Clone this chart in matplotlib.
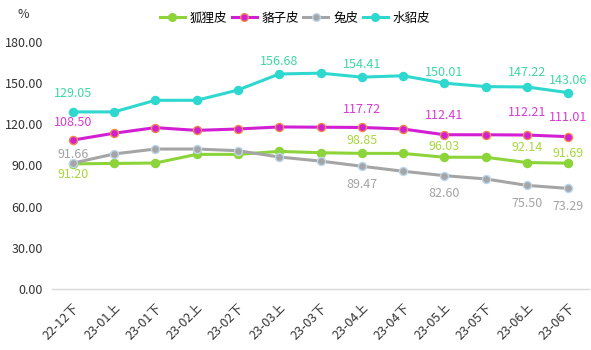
import matplotlib
matplotlib.use("Agg")
import matplotlib.pyplot as plt
from matplotlib.lines import Line2D

plt.rcParams['font.family'] = ['Noto Sans CJK SC', 'DejaVu Sans']

categories = ["22-12下", "23-01上", "23-01下", "23-02上", "23-02下", "23-03上", "23-03下",
              "23-04上", "23-04下", "23-05上", "23-05下", "23-06上", "23-06下"]
fox = [91.20, 91.5, 91.8, 98.1, 98.1, 100.3, 99.3, 98.85, 98.8, 96.03, 96.0, 92.14, 91.69]
raccoon = [108.50, 113.5, 117.6, 115.6, 116.6, 118.1, 117.9, 117.72, 116.6, 112.41, 112.4, 112.21, 111.01]
rabbit = [91.66, 98.4, 102.0, 102.0, 100.8, 96.2, 93.2, 89.47, 85.8, 82.60, 80.2, 75.50, 73.29]
mink = [129.05, 129.05, 137.5, 137.5, 145.0, 156.68, 157.3, 154.41, 155.4, 150.01, 147.5, 147.22, 143.06]
series_names = ["狐狸皮", "貉子皮", "兔皮", "水貂皮"]
yticks = [0, 30, 60, 90, 120, 150, 180]

# label indices and pixel offsets (style/positions)
label_spec = {
    "狐狸皮": {0: 11, 7: -13, 9: -11, 11: -15, 12: -10},
    "貉子皮": {0: -18, 7: -18, 9: -19, 11: -23, 12: -19},
    "兔皮": {0: -9, 7: 18, 9: 18, 11: 18, 12: 18},
    "水貂皮": {0: -18, 5: -13, 7: -13, 9: -11, 11: -14, 12: -12},
}

styles = {
    "狐狸皮": dict(color="#8cd43a", mfc="#8cd43a", mec="#8cd43a", lab="#a9d83a"),
    "貉子皮": dict(color="#d21fd4", mfc="#d21fd4", mec="#f08a4a", lab="#d83ad6"),
    "兔皮": dict(color="#a5a5a5", mfc="#a5a5a5", mec="#bcd6ec", lab="#a3a3a3"),
    "水貂皮": dict(color="#2ed8cf", mfc="#2ed8cf", mec="#2ed8cf", lab="#3fd8a3"),
}
data = {"狐狸皮": fox, "貉子皮": raccoon, "兔皮": rabbit, "水貂皮": mink}

fig = plt.figure(figsize=(5.91, 3.5), dpi=100)
ax = fig.add_axes([52/591, 1-289/350, 537/591, (289-42)/350])

x = list(range(len(categories)))
handles = []
for name in series_names:
    st = styles[name]
    vals = data[name]
    ax.plot(x, vals, color=st["color"], lw=2.2, marker="o", ms=5.8,
            mfc=st["mfc"], mec=st["mec"], mew=1.0, zorder=3, solid_capstyle="round")
    for i, off in label_spec[name].items():
        ax.annotate(f"{vals[i]:.2f}", (x[i], vals[i]), xytext=(0, -off),
                    textcoords="offset pixels", ha="center", va="center",
                    fontsize=9, color=st["lab"], zorder=4)
    handles.append(Line2D([0], [0], color=st["color"], lw=2.2, marker="o", ms=5.5,
                          mfc=st["mfc"], mec=st["mec"], mew=1.0))

ax.set_xlim(-0.5, len(categories) - 0.5)
ax.set_ylim(0, 180)
ax.set_yticks(yticks)
ax.set_yticklabels([f"{v:.2f}" for v in yticks], fontsize=9, color="#333333")
ax.set_xticks(x)
ax.set_xticklabels(categories, rotation=45, ha="right", va="top",
                   rotation_mode="anchor", fontsize=9, color="#333333")
ax.tick_params(axis="both", length=0)
ax.tick_params(axis="y", pad=6.5)
ax.tick_params(axis="x", pad=9)
for s in ["top", "right", "left"]:
    ax.spines[s].set_visible(False)
ax.spines["bottom"].set_color("#d9d9d9")
ax.spines["bottom"].set_linewidth(1)

fig.text(17/591, 1-14/350, "%", fontsize=9, color="#333333", ha="left", va="center")

fig.legend(handles, series_names, loc="center", bbox_to_anchor=(295/591, 1-18/350),
           ncol=4, frameon=False, fontsize=9, handlelength=2.0, handletextpad=0.4,
           columnspacing=0.35, borderaxespad=0)

fig.savefig("out.png", dpi=100)
